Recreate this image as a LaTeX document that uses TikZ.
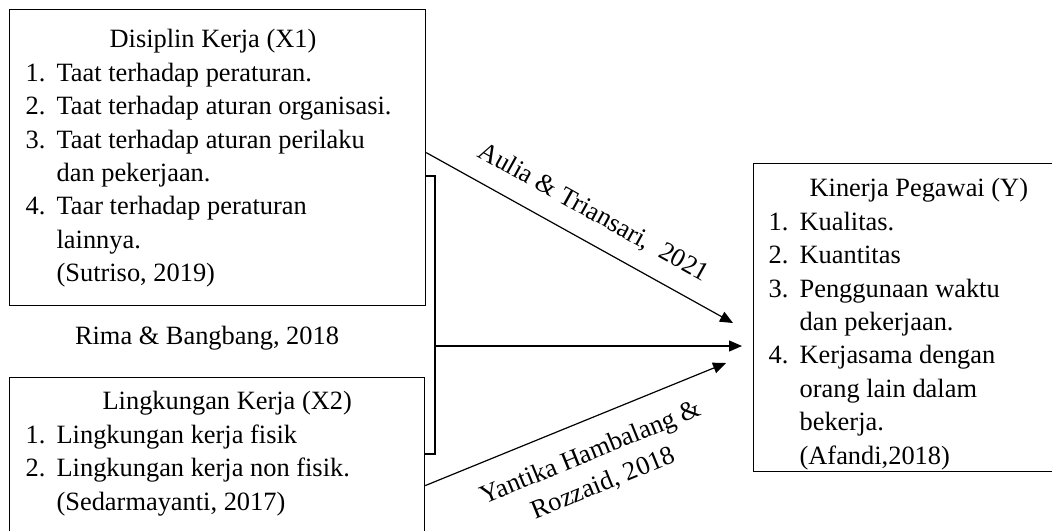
\documentclass[tikz,border=0pt]{standalone}
\usepackage{fontspec}
\setmainfont{Liberation Serif}
\usetikzlibrary{arrows.meta}
\newcommand{\itm}[2]{\makebox[15.5pt][l]{#1}#2}
\newcommand{\cnt}{\hspace*{15.5pt}}
\begin{document}
\begin{tikzpicture}[x=0.5pt, y=-0.5pt, font=\fontsize{13.2}{16.7}\selectfont, line width=0.6pt]
    \tikzset{
        varbox/.style={draw, rectangle, anchor=north west, inner sep=0pt},
        listtxt/.style={anchor=north west, align=left, inner sep=0pt},
        arrowline/.style={-{Triangle[length=6.5pt, width=5.5pt]}}
    }
    \useasboundingbox (0,0) rectangle (1052,530);
    % the three variable boxes
    \node[varbox, minimum width=208pt, minimum height=148pt] (x1) at (9,9) {};
    \node[varbox, minimum width=207.5pt, minimum height=79pt] (x2) at (9,377) {};
    \node[varbox, minimum width=155pt, minimum height=154pt] (y) at (753,163) {};
    \node[listtxt] (x1txt) at (25,29) {\hspace*{42pt}Disiplin Kerja (X1)\\
        \itm{1.}{Taat terhadap peraturan.}\\
        \itm{2.}{Taat terhadap aturan organisasi.}\\
        \itm{3.}{Taat terhadap aturan perilaku}\\
        \cnt dan pekerjaan.\\
        \itm{4.}{Taar terhadap peraturan}\\
        \cnt lainnya.\\
        \cnt (Sutriso, 2019)};
    \node[listtxt] (x2txt) at (25,391) {\hspace*{38.5pt}Lingkungan Kerja (X2)\\
        \itm{1.}{Lingkungan kerja fisik}\\
        \itm{2.}{Lingkungan kerja non fisik.}\\
        \cnt (Sedarmayanti, 2017)};
    \node[listtxt] (ytxt) at (768,178) {\hspace*{20.5pt}Kinerja Pegawai (Y)\\
        \itm{1.}{Kualitas.}\\
        \itm{2.}{Kuantitas}\\
        \itm{3.}{Penggunaan waktu}\\
        \cnt dan pekerjaan.\\
        \itm{4.}{Kerjasama dengan}\\
        \cnt orang lain dalam\\
        \cnt bekerja.\\
        \cnt (Afandi,2018)};
    \node (rima) at (207,338) {Rima \& Bangbang, 2018};
    % bracket and arrow ends
    \coordinate (brtop) at (435,176);
    \coordinate (brbot) at (435,454);
    \coordinate (brmid) at (435,346);
    \coordinate (tip1) at (733,323);
    \coordinate (tip2) at (742,346);
    \coordinate (tip3) at (726,363);
    \draw (x1.east |- brtop) -- (brtop) -- (brbot) -- (x2.east |- brbot);
    \draw[arrowline] ([yshift=2.5pt]x1.east) -- (tip1)
        node[pos=0.5, sloped, above=5pt] {Aulia \& Triansari,~ 2021};
    \draw[arrowline] (brmid) -- (tip2);
    \draw[arrowline] ([yshift=-14.5pt]x2.east) -- (tip3)
        node[pos=0.51, sloped, below=7pt, align=center] {Yantika Hambalang \&\\ Rozzaid, 2018};
\end{tikzpicture}
\end{document}
